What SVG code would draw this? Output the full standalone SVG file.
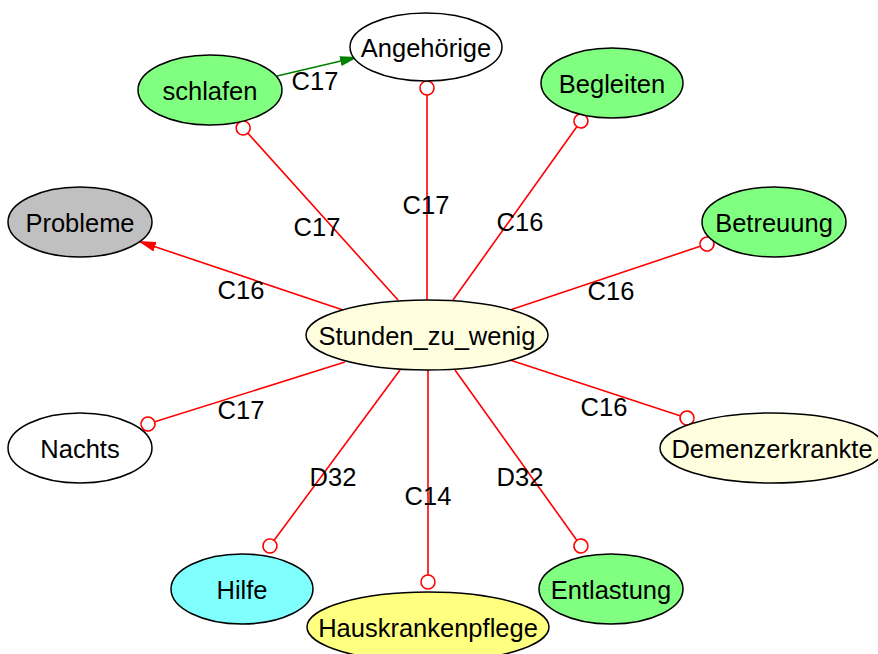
<svg xmlns="http://www.w3.org/2000/svg" width="878" height="654" viewBox="0 0 878 654">
  <style>
    .node ellipse { stroke: #000; stroke-width: 1.5; }
    .node text, .lbl { font-family: "Liberation Sans", Arial, sans-serif; font-size: 25.5px; fill: #000; }
    .node text { text-anchor: middle; }
    .lbl { text-anchor: middle; }
    .e { fill: none; stroke: #f00; stroke-width: 1.6; }
    .odot { marker-end: url(#odot); }
    .g { fill: none; stroke: #008000; stroke-width: 1.6; marker-end: url(#arrG); }
  </style>
  <defs>
    <!-- hollow circle end (odot) -->
    <marker id="odot" markerUnits="userSpaceOnUse" viewBox="0 0 17 17" markerWidth="17" markerHeight="17" refX="15.5" refY="8.5" orient="auto">
      <circle cx="8.5" cy="8.5" r="7" fill="#fff" stroke="#f00" stroke-width="1.6"/>
    </marker>
    <marker id="arrR" markerUnits="userSpaceOnUse" viewBox="0 0 18 10" markerWidth="18" markerHeight="10" refX="18" refY="5" orient="auto">
      <path d="M0,0 L18,5 L0,10 z" fill="#f00"/>
    </marker>
    <marker id="arrG" markerUnits="userSpaceOnUse" viewBox="0 0 18 10" markerWidth="18" markerHeight="10" refX="18" refY="5" orient="auto">
      <path d="M0,0 L18,5 L0,10 z" fill="#008000"/>
    </marker>
  </defs>

  <g id="edges">
    <path class="g" d="M277,76 L358,57"/>
    <path class="e odot" d="M427,300 L427,81"/>
    <path class="e odot" d="M398,300 L238.5,122.8"/>
    <path class="e odot" d="M453,300 L585,115.3"/>
    <path class="e odot" d="M510,310 L713.6,241.8"/>
    <path class="e" d="M346,311 L138,241" marker-end="url(#arrR)"/>
    <path class="e odot" d="M345,362 L141.3,426.1"/>
    <path class="e odot" d="M510,360 L693.7,420.2"/>
    <path class="e odot" d="M400,370 L265.8,551.6"/>
    <path class="e odot" d="M428,370 L428,589"/>
    <path class="e odot" d="M455,370 L585,551.7"/>

    <text class="lbl" x="315" y="90">C17</text>
    <text class="lbl" x="317" y="236">C17</text>
    <text class="lbl" x="426" y="214">C17</text>
    <text class="lbl" x="520" y="231">C16</text>
    <text class="lbl" x="611" y="300">C16</text>
    <text class="lbl" x="241" y="299">C16</text>
    <text class="lbl" x="241" y="419">C17</text>
    <text class="lbl" x="604" y="416">C16</text>
    <text class="lbl" x="333" y="486">D32</text>
    <text class="lbl" x="428" y="505">C14</text>
    <text class="lbl" x="520" y="486">D32</text>
  </g>

  <g id="Stunden_zu_wenig" class="node">
    <ellipse cx="427" cy="335" rx="121" ry="35" fill="#ffffe0"/>
    <text x="427" y="344.5">Stunden_zu_wenig</text>
  </g>
  <g id="Angehoerige" class="node">
    <ellipse cx="426" cy="47" rx="76" ry="34" fill="#fff"/>
    <text x="426" y="56.5">Angehörige</text>
  </g>
  <g id="schlafen" class="node">
    <ellipse cx="210" cy="90" rx="72" ry="35" fill="#80ff80"/>
    <text x="210" y="99.5">schlafen</text>
  </g>
  <g id="Begleiten" class="node">
    <ellipse cx="612" cy="83" rx="71" ry="35" fill="#80ff80"/>
    <text x="612" y="92.5">Begleiten</text>
  </g>
  <g id="Betreuung" class="node">
    <ellipse cx="774" cy="222" rx="72" ry="35" fill="#80ff80"/>
    <text x="774" y="231.5">Betreuung</text>
  </g>
  <g id="Probleme" class="node">
    <ellipse cx="80" cy="222" rx="72" ry="35" fill="#c0c0c0"/>
    <text x="80" y="231.5">Probleme</text>
  </g>
  <g id="Nachts" class="node">
    <ellipse cx="80" cy="448" rx="72" ry="35" fill="#fff"/>
    <text x="80" y="457.5">Nachts</text>
  </g>
  <g id="Demenzerkrankte" class="node">
    <ellipse cx="772" cy="448" rx="112" ry="35" fill="#ffffe0"/>
    <text x="772" y="457.5">Demenzerkrankte</text>
  </g>
  <g id="Hilfe" class="node">
    <ellipse cx="242" cy="589" rx="71" ry="35" fill="#80ffff"/>
    <text x="242" y="598.5">Hilfe</text>
  </g>
  <g id="Hauskrankenpflege" class="node">
    <ellipse cx="428" cy="627" rx="121" ry="35" fill="#ffff80"/>
    <text x="428" y="636.5">Hauskrankenpflege</text>
  </g>
  <g id="Entlastung" class="node">
    <ellipse cx="611" cy="589" rx="72" ry="35" fill="#80ff80"/>
    <text x="611" y="598.5">Entlastung</text>
  </g>
</svg>
